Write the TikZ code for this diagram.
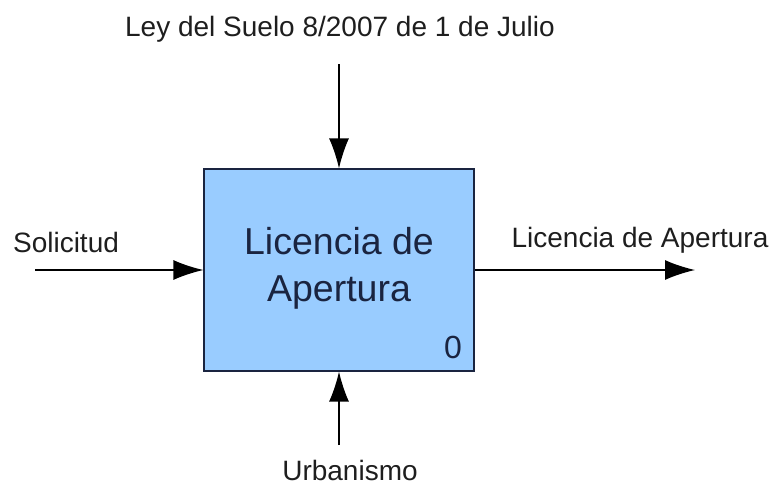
\documentclass[tikz,border=0pt]{standalone}
\usepackage{fontspec}
\setmainfont{Liberation Sans}
\usetikzlibrary{arrows.meta}
\definecolor{boxblue}{HTML}{99CCFF}
\definecolor{boxline}{HTML}{1A2440}
\definecolor{labtext}{HTML}{1E1E1E}
\tikzset{
  actbox/.style={draw=boxline, fill=boxblue, line width=1.2pt, inner sep=0pt,
    minimum width=270pt, minimum height=202pt},
  lab/.style={anchor=base, text=labtext, inner sep=0pt, font=\fontsize{28}{32}\selectfont},
  flow/.style={-{Latex[length=30pt,width=20pt]}, line width=1.3pt},
}
\begin{document}
\begin{tikzpicture}[x=1pt, y=-1pt]
\useasboundingbox (0,0) rectangle (777,490);
\node (act) [actbox] at (339,270) {};
\node (acttxt) at (339,268) [align=center, text=boxline, font=\fontsize{37.5}{47}\selectfont]
  {Licencia de\\Apertura};
\node (num) at (462,358) [anchor=base east, inner sep=0pt, text=boxline, font=\fontsize{32}{36}\selectfont] {0};
\node (ley) at (340,36) [lab] {Ley del Suelo 8/2007 de 1 de Julio};
\node (sol) at (66,252) [lab] {Solicitud};
\node (sal) at (640,247) [lab] {Licencia de Apertura};
\node (urb) at (350,480) [lab] {Urbanismo};
\coordinate (top) at (339,64);
\coordinate (in) at (35,270);
\coordinate (out) at (695,270);
\coordinate (bot) at (339,445);
\draw[flow] (top) -- (act.north);
\draw[flow] (in) -- (act.west);
\draw[flow] (act.east) -- (out);
\draw[flow] (bot) -- (act.south);
\end{tikzpicture}
\end{document}
